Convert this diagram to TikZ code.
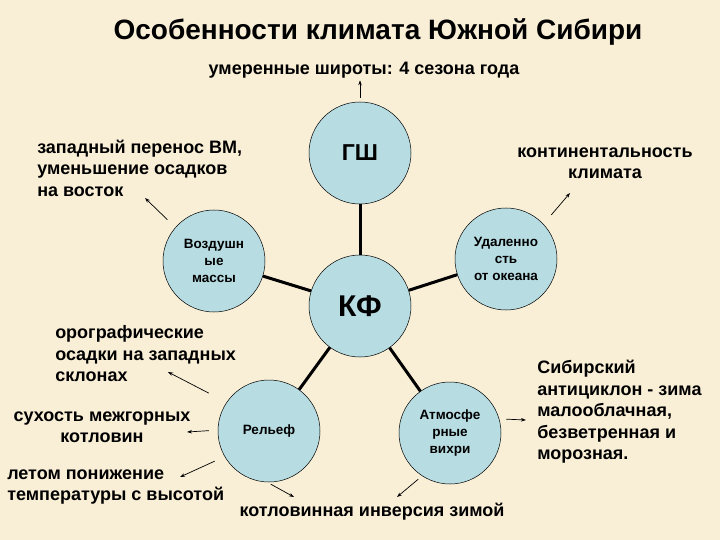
\documentclass[tikz,border=0pt]{standalone}
\usepackage{fontspec}
\setmainfont{Liberation Sans}
\usetikzlibrary{arrows.meta}
\definecolor{paper}{RGB}{249,238,214}
\definecolor{circfill}{RGB}{183,221,227}

\begin{document}
\begin{tikzpicture}[x=1pt,y=-1pt,line width=0.5pt,
  circ/.style={circle,draw,fill=circfill,minimum size=102pt,inner sep=0pt,align=center,font=\bfseries\fontsize{13.5}{17}\selectfont},
  link/.style={line width=3pt},
  note/.style={->,>={Stealth[length=5pt,width=3.5pt]},line width=0.7pt},
  txt/.style={inner sep=0pt,font=\bfseries\fontsize{18}{21.5}\selectfont}]
  \fill[paper] (0,0) rectangle (720,540);
  \useasboundingbox (0,0) rectangle (720,540);
  \node[inner sep=0pt,font=\bfseries\fontsize{28}{32}\selectfont](title) at (378,32) {Особенности климата Южной Сибири};
  \node[txt,font=\bfseries\fontsize{18}{21}\selectfont](umer) at (364,70) {умеренные широты: 4 сезона года};
  \node[circ,font=\bfseries\fontsize{23}{28}\selectfont](gsh) at (360,153) {ГШ};
  \node[circ,font=\bfseries\fontsize{30}{36}\selectfont](kf) at (360,306) {КФ};
  \node[circ](vozd) at (214,261) {Воздушн\\ые\\ массы};
  \node[circ](udal) at (506,259) {Удаленно\\сть\\ от океана};
  \node[circ](relief) at (269,431) {Рельеф};
  \node[circ](atm) at (450,433) {Атмосфе\\рные\\ вихри};
  \node[txt,anchor=west,align=left](zapad) at (37,168) {западный перенос ВМ,\\уменьшение осадков\\на восток};
  \node[txt,align=center](kontin) at (605,163) {континентальность\\климата};
  \node[txt,anchor=west,align=left](orogr) at (55,354) {орографические\\осадки на западных\\склонах};
  \node[txt,align=center](suhost) at (102,427) {сухость межгорных\\котловин};
  \node[txt,anchor=west,align=left](letom) at (7,487) {летом понижение\\температуры с высотой};
  \node[txt](kotlov) at (372,512) {котловинная инверсия зимой};
  \node[txt,anchor=west,align=left](sibir) at (537,412) {Сибирский\\антициклон - зима\\малооблачная,\\безветренная и\\морозная.};
  \coordinate (tzapad) at (145,198);
  \coordinate (tkontin) at (570,193);
  \coordinate (torogr) at (168,372);
  \coordinate (tsuhost) at (187,432);
  \coordinate (tletom) at (180,477);
  \coordinate (tkotl1) at (294,497);
  \coordinate (tkotl2) at (397,497);
  \coordinate (tsibir) at (526,420);
  \draw[link] (gsh)--(kf);
  \draw[link] (kf)--(vozd);
  \draw[link] (kf)--(udal);
  \draw[link] (kf)--(relief);
  \draw[link] (kf)--(atm);
  \draw[note,shorten <=4pt,shorten >=2pt] (gsh.north)--(gsh.north |- umer.south);
  \draw[note,shorten <=11pt] (vozd.139)--(tzapad);
  \draw[note,shorten <=12pt] (udal.43)--(tkontin);
  \draw[note,shorten <=20pt] (relief.146)--(torogr);
  \draw[note,shorten <=9pt] (relief.179)--(tsuhost);
  \draw[note,shorten <=11pt] (relief.210)--(tletom);
  \draw[note,shorten <=4pt] (relief.268)--(tkotl1);
  \draw[note,shorten <=7pt] (atm.16)--(tsibir);
  \draw[note,shorten <=5pt] (atm.237)--(tkotl2);
\end{tikzpicture}
\end{document}
